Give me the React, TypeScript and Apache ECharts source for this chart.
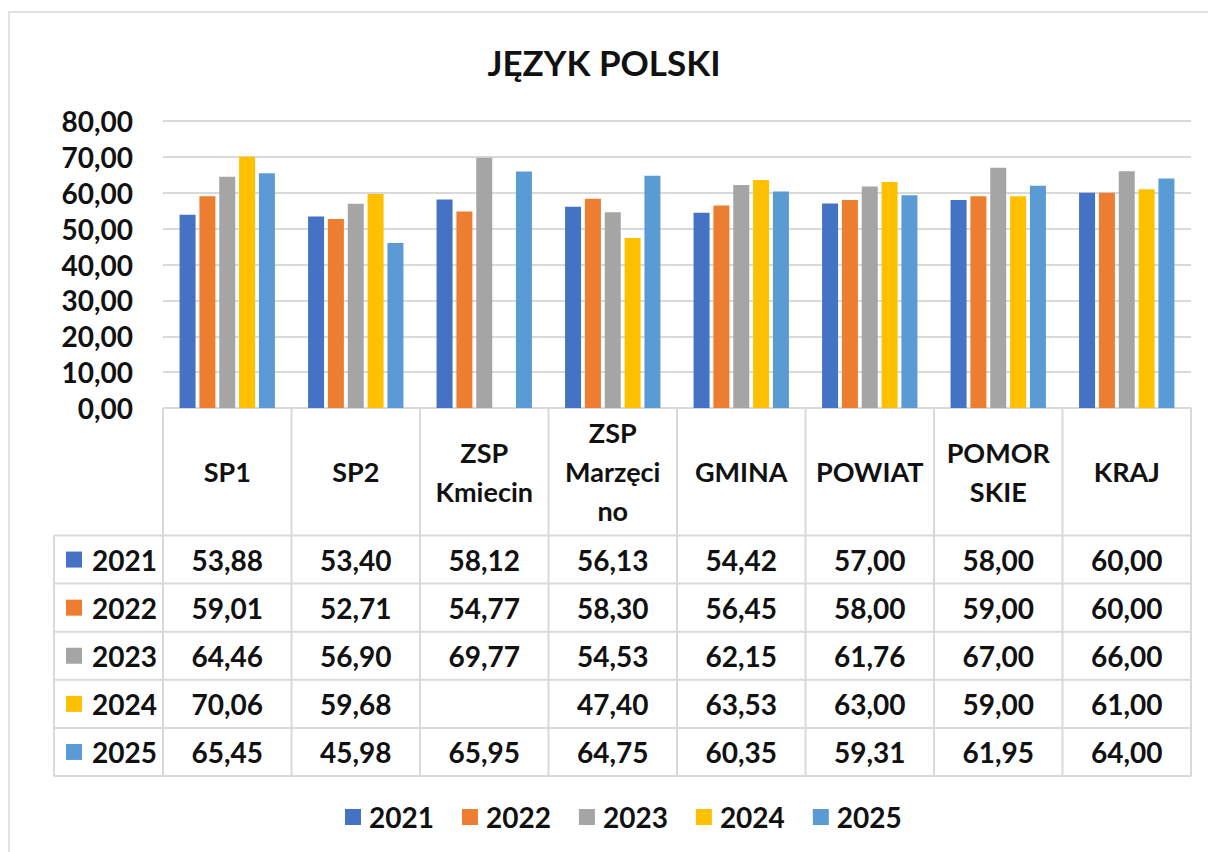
import React, { useEffect, useRef } from "react";
import * as echarts from "echarts";

const categories = ["SP1", "SP2", "ZSP\nKmiecin", "ZSP\nMarzęci\nno", "GMINA", "POWIAT", "POMOR\nSKIE", "KRAJ"];
const years = ["2021", "2022", "2023", "2024", "2025"];
const colors = ["#4472C4", "#ED7D31", "#A5A5A5", "#FFC000", "#5B9BD5"];
const v2021 = [53.88, 53.4, 58.12, 56.13, 54.42, 57.0, 58.0, 60.0];
const v2022 = [59.01, 52.71, 54.77, 58.3, 56.45, 58.0, 59.0, 60.0];
const v2023 = [64.46, 56.9, 69.77, 54.53, 62.15, 61.76, 67.0, 66.0];
const v2024 = [70.06, 59.68, null, 47.4, 63.53, 63.0, 59.0, 61.0];
const v2025 = [65.45, 45.98, 65.95, 64.75, 60.35, 59.31, 61.95, 64.0];
const seriesValues = [v2021, v2022, v2023, v2024, v2025];
const yTicks = { min: 0, max: 80, interval: 10 };

const W = 1208;
const H = 852;
const FONT = "Lato, 'Open Sans', sans-serif";
const GRID_L = 163;
const GRID_R = 1191;
const GRID_T = 121;
const AXIS_Y = 408;
const HEAD_B = 535.5;
const ROW_H = 48.1;
const TABLE_L = 54;
const LINE = "#d9d9d9";

const fmt = (v: number | null) => (v == null ? "" : v.toFixed(2).replace(".", ","));

export default function App() {
  const ref = useRef<HTMLDivElement>(null);
  useEffect(() => {
    if (!ref.current) return;
    const chart = echarts.init(ref.current, null, { renderer: "svg" });
    const n = categories.length;
    const cw = (GRID_R - GRID_L) / n;
    const tableB = HEAD_B + ROW_H * years.length;
    const g: any[] = [];
    // outer border
    g.push({ type: "rect", shape: { x: 9, y: 12, width: 1220, height: 870 }, style: { fill: "none", stroke: LINE, lineWidth: 1.5 }, silent: true });
    // vertical lines
    for (let i = 0; i <= n; i++) {
      const x = GRID_L + i * cw;
      g.push({ type: "line", shape: { x1: x, y1: AXIS_Y, x2: x, y2: tableB }, style: { stroke: LINE, lineWidth: 2 } });
    }
    g.push({ type: "line", shape: { x1: TABLE_L, y1: HEAD_B, x2: TABLE_L, y2: tableB }, style: { stroke: LINE, lineWidth: 2 } });
    // horizontal lines
    g.push({ type: "line", shape: { x1: GRID_L, y1: AXIS_Y, x2: GRID_R, y2: AXIS_Y }, style: { stroke: LINE, lineWidth: 2 } });
    for (let r = 0; r <= years.length; r++) {
      const y = HEAD_B + r * ROW_H;
      g.push({ type: "line", shape: { x1: TABLE_L, y1: y, x2: GRID_R, y2: y }, style: { stroke: LINE, lineWidth: 2 } });
    }
    // header
    categories.forEach((c, i) => {
      g.push({
        type: "text",
        x: GRID_L + (i + 0.5) * cw,
        y: (AXIS_Y + HEAD_B) / 2,
        style: { text: c, fontFamily: FONT, fontWeight: "bold", fontSize: 27, lineHeight: 39, fill: "#111", align: "center", verticalAlign: "middle" },
      });
    });
    // rows
    years.forEach((yr, r) => {
      const cy = HEAD_B + (r + 0.5) * ROW_H;
      g.push({ type: "rect", shape: { x: 66, y: cy - 8, width: 16, height: 16 }, style: { fill: colors[r] } });
      g.push({ type: "text", x: 92, y: cy, style: { text: yr, fontFamily: FONT, fontWeight: "bold", fontSize: 28, fill: "#111", align: "left", verticalAlign: "middle" } });
      seriesValues[r].forEach((v, i) => {
        g.push({
          type: "text",
          x: GRID_L + (i + 0.5) * cw,
          y: cy,
          style: { text: fmt(v), fontFamily: FONT, fontWeight: "bold", fontSize: 28, fill: "#111", align: "center", verticalAlign: "middle" },
        });
      });
    });

    chart.setOption({
      animation: false,
      backgroundColor: "#ffffff",
      title: {
        text: "JĘZYK POLSKI",
        left: "center",
        top: 39,
        textStyle: { fontFamily: FONT, fontWeight: "bold", fontSize: 35, color: "#111" },
      },
      legend: {
        data: years,
        left: 340,
        top: 798,
        icon: "rect",
        itemWidth: 16,
        itemHeight: 16,
        itemGap: 28,
        textStyle: { fontFamily: FONT, fontWeight: "bold", fontSize: 28, color: "#111", padding: [0, 0, 0, 3] },
      },
      grid: { left: GRID_L, right: W - GRID_R, top: GRID_T, bottom: H - AXIS_Y, containLabel: false },
      xAxis: {
        type: "category",
        data: categories,
        axisLine: { show: false },
        axisTick: { show: false },
        axisLabel: { show: false },
        splitLine: { show: false },
      },
      yAxis: {
        type: "value",
        min: yTicks.min,
        max: yTicks.max,
        interval: yTicks.interval,
        axisLine: { show: false },
        axisTick: { show: false },
        splitLine: { lineStyle: { color: LINE, width: 2 } },
        axisLabel: { formatter: (v: number) => fmt(v), fontFamily: FONT, fontWeight: "bold", fontSize: 28, color: "#111", margin: 30 },
      },
      series: years.map((yr, k) => ({
        name: yr,
        type: "bar",
        data: seriesValues[k],
        barWidth: 16,
        barGap: "24%",
        itemStyle: { color: colors[k] },
      })),
      graphic: g,
    });
    return () => chart.dispose();
  }, []);
  return <div ref={ref} style={{ position: "fixed", left: 0, top: 0, width: W, height: H }} />;
}
